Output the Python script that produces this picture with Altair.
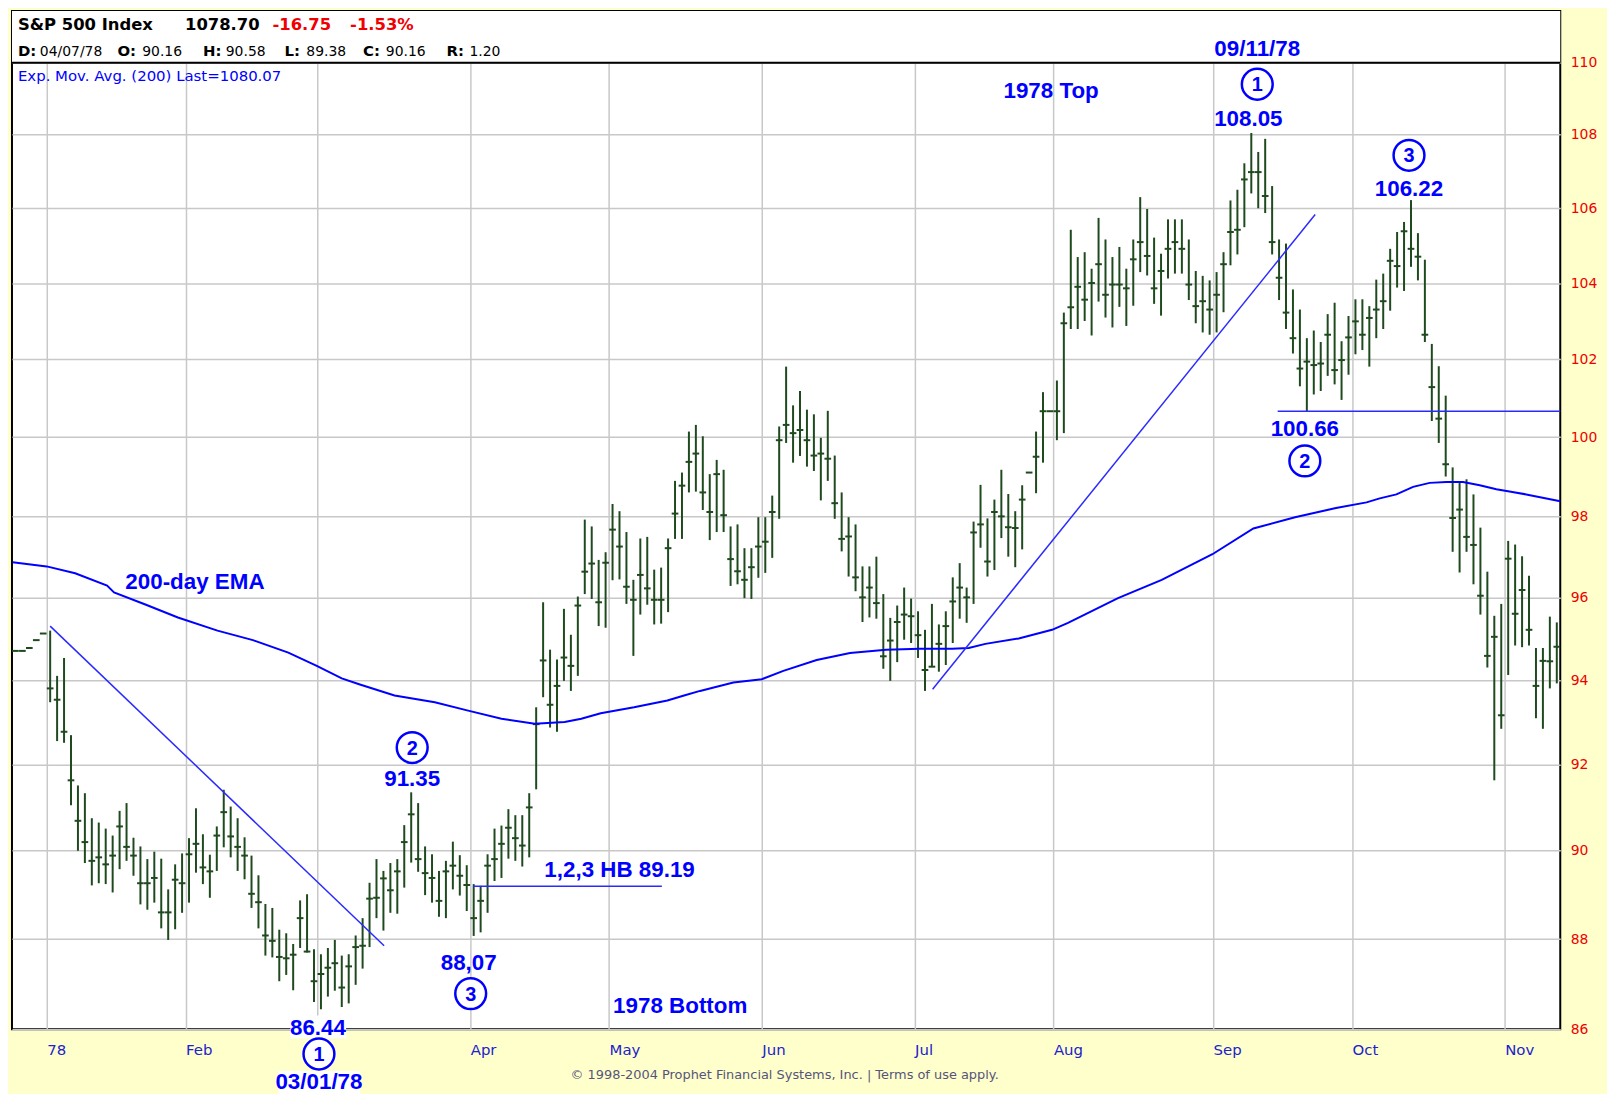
import altair as alt
import pandas as pd

# ---------------- values ----------------
# one entry per trading day (Dec 23 1977 .. Nov 10 1978); open is not shown
high = [
    94.70, 94.70, 94.77, 94.96, 95.12,                                   # Dec 77
    95.19, 94.10, 94.53, 92.69, 91.51, 91.33, 90.75, 90.65, 90.51, 90.35,  # Jan
    90.92, 91.10, 90.30, 90.10, 89.81, 89.98, 89.82, 89.12, 89.69, 89.94,
    90.29, 90.98, 90.38, 89.91, 90.56, 91.41, 91.02, 90.75, 90.31, 89.89,  # Feb
    89.44, 88.79, 88.70, 88.21, 88.13, 87.89, 88.87, 89.01, 87.77,
    87.66, 87.80, 87.98, 87.63, 87.66, 88.08, 88.47, 89.27, 89.81, 89.54,  # Mar
    89.72, 89.81, 90.59, 91.35, 91.10, 90.10, 89.92, 89.54, 89.77, 90.21,
    89.90, 89.67,
    89.24, 89.20, 89.92, 90.51, 90.58, 90.96, 90.82, 90.82, 91.33, 93.35,  # Apr
    95.88, 94.73, 94.49, 95.72, 95.09, 96.02, 97.92, 97.75, 96.92, 97.11,
    98.31, 98.13, 97.61, 96.43, 97.45, 97.49, 96.68, 96.73, 97.45, 98.89,  # May
    99.10, 100.14, 100.31, 100.02, 99.06, 99.42, 99.17, 97.75, 97.80, 97.21,
    97.21, 97.98,
    97.98, 98.52, 100.27, 101.81, 100.81, 101.18, 100.70, 100.58, 99.98, 100.67,  # Jun
    99.53, 98.60, 97.98, 97.80, 96.76, 96.76, 97.00, 96.08, 95.50, 95.80,
    96.24, 95.97,
    95.66, 95.21, 95.84, 95.34, 95.66, 96.49, 96.84, 96.24, 97.87, 98.79,  # Jul
    97.95, 98.42, 99.17, 98.56, 98.13, 98.78, 99.10, 100.14, 101.15, 100.66,
    101.45, 103.22, 105.42, 104.69, 104.82, 104.38, 105.74, 105.16, 104.69, 104.96,  # Aug
    104.38, 105.16, 106.30, 105.98, 105.21, 104.78, 105.70, 105.70, 105.70, 105.16,
    104.32, 104.19, 104.07,
    104.29, 104.82, 106.21, 106.50, 107.22, 108.05, 107.53, 107.89, 106.60, 105.16,  # Sep
    105.05, 103.83, 103.30, 102.55, 102.75, 102.45, 103.18, 103.48, 102.47, 103.13,
    103.57, 103.57, 103.39, 104.09, 104.25, 104.91, 105.36, 105.63, 106.22, 105.33,  # Oct
    104.62, 102.40, 101.82, 101.06, 99.23, 98.84, 98.93, 98.55, 97.72, 96.63,
    95.55, 95.84,
    97.39, 97.30, 97.01, 96.53, 94.77, 94.77, 95.53, 95.39,                # Nov
]
low = [
    94.70, 94.70, 94.77, 94.96, 95.12,
    93.47, 92.55, 92.51, 91.05, 90.00, 89.72, 89.21, 89.26, 89.24, 89.05,
    89.58, 89.77, 89.43, 88.78, 88.66, 88.82, 88.24, 87.98, 88.22, 88.59,
    88.82, 89.50, 89.24, 88.93, 89.54, 90.08, 89.85, 89.54, 89.35, 88.70,
    88.24, 87.63, 87.59, 87.06, 87.20, 86.86, 87.80, 87.70, 86.60,
    86.44, 86.72, 86.85, 86.49, 86.57, 86.98, 87.34, 87.82, 88.47, 88.19,
    88.59, 88.57, 89.16, 89.73, 89.52, 88.99, 88.82, 88.50, 88.47, 89.12,
    88.98, 88.63,
    88.07, 88.15, 88.59, 89.31, 89.38, 89.82, 89.77, 89.64, 89.85, 91.42,
    93.59, 92.87, 92.77, 93.98, 93.74, 94.10, 96.08, 95.96, 95.30, 95.26,
    96.42, 96.44, 95.84, 94.58, 95.58, 95.82, 95.34, 95.36, 95.64, 97.44,
    97.44, 98.60, 98.62, 98.16, 97.41, 97.61, 97.61, 96.28, 96.32, 95.98,
    95.96, 96.48,
    96.60, 96.97, 97.94, 99.85, 99.35, 99.52, 99.25, 99.14, 98.40, 98.89,
    97.94, 97.13, 96.51, 96.15, 95.40, 95.51, 95.48, 94.27, 93.98, 94.43,
    94.97, 94.89,
    94.53, 93.74, 94.32, 94.20, 94.36, 94.89, 95.48, 95.38, 95.84, 97.22,
    96.51, 96.67, 97.46, 97.00, 96.74, 97.18, 99.10, 98.58, 99.35, 100.66,
    99.92, 100.10, 102.79, 102.79, 103.00, 102.62, 103.51, 103.09, 102.83, 103.37,
    102.87, 103.40, 104.29, 104.20, 103.45, 103.14, 104.12, 104.25, 104.25, 103.55,
    102.94, 102.70, 102.64,
    102.70, 103.23, 104.47, 104.76, 105.49, 106.40, 106.00, 105.87, 104.76, 103.55,
    102.79, 102.15, 101.30, 100.66, 101.09, 101.18, 101.57, 101.35, 100.95, 101.60,
    102.13, 102.24, 101.81, 102.55, 102.79, 103.27, 103.88, 103.79, 104.43, 104.07,
    102.45, 100.41, 99.85, 99.00, 97.12, 96.61, 97.12, 96.32, 95.58, 94.30,
    91.63, 92.84,
    94.12, 94.83, 94.79, 94.83, 93.09, 92.84, 93.80, 93.92,
]
close = [
    94.70, 94.70, 94.77, 94.96, 95.12,
    93.80, 93.53, 92.77, 91.63, 90.69, 90.20, 89.77, 89.85, 89.69, 89.89,
    90.56, 90.09, 89.89, 89.26, 89.26, 89.38, 88.60, 88.60, 89.34, 89.26,
    89.92, 90.16, 89.62, 89.53, 90.35, 90.89, 90.33, 90.09, 89.89, 89.02,
    88.83, 88.08, 87.96, 87.60, 87.57, 87.65, 88.47, 87.72, 87.06,
    87.22, 87.36, 87.46, 86.92, 87.39, 87.82, 87.85, 88.91, 88.93, 89.37,
    89.10, 89.53, 90.20, 90.84, 89.81, 89.49, 89.38, 88.86, 89.53, 89.66,
    89.43, 89.22,
    88.47, 88.86, 89.66, 89.81, 90.16, 90.53, 90.29, 90.12, 91.00, 92.95,
    94.47, 93.41, 93.86, 94.54, 94.34, 95.80, 96.63, 96.83, 95.88, 96.85,
    97.67, 97.25, 96.26, 95.94, 96.55, 96.22, 95.94, 95.94, 97.21, 98.07,
    98.77, 99.37, 99.58, 98.60, 98.11, 99.06, 98.03, 96.94, 96.64, 96.43,
    96.74, 97.25,
    97.37, 98.11, 99.92, 100.31, 100.10, 100.18, 99.92, 99.53, 99.58, 99.45,
    98.33, 97.44, 97.50, 96.49, 96.00, 96.24, 95.86, 94.57, 94.95, 95.40,
    95.58, 95.54,
    95.08, 94.24, 94.32, 94.87, 95.30, 95.90, 96.24, 96.00, 97.60, 97.80,
    96.88, 98.11, 98.00, 97.73, 97.71, 98.42, 99.10, 99.50, 100.66, 100.66,
    100.66, 102.94, 103.36, 103.90, 103.56, 104.00, 104.50, 103.69, 103.96, 103.96,
    103.86, 104.63, 105.09, 104.72, 103.86, 104.32, 104.91, 105.09, 104.91, 103.96,
    103.39, 103.52, 103.30,
    103.69, 104.50, 105.36, 105.42, 106.78, 106.98, 106.98, 106.33, 105.09, 104.14,
    103.22, 102.55, 101.76, 101.94, 101.85, 101.89, 102.64, 101.72, 101.98, 102.57,
    102.99, 102.64, 103.08, 103.30, 103.52, 104.59, 104.45, 105.38, 104.91, 104.70,
    102.64, 101.28, 100.47, 99.31, 97.96, 98.17, 97.49, 97.29, 96.04, 94.58,
    95.04, 93.16,
    96.95, 95.60, 96.18, 95.21, 93.86, 94.46, 94.45, 94.80,
]

# month boundaries (trading-day index of the first session) and their labels
month_start = [5, 25, 44, 66, 86, 108, 130, 150, 173, 193, 215]
month_label = ["78", "Feb", "Mar", "Apr", "May", "Jun", "Jul", "Aug", "Sep", "Oct", "Nov"]
hidden_labels = ["Mar"]          # covered by the 03/01/78 annotation
price_ticks = [86, 88, 90, 92, 94, 96, 98, 100, 102, 104, 106, 108, 110]

# 200-day exponential moving average, sampled along the drawn curve
ema_pos = [0.1, 5.0, 9.1, 13.7, 14.7, 19.3, 23.9, 29.6, 34.7, 39.8, 43.9, 47.5,
           50.0, 55.1, 60.9, 65.7, 70.5, 75.3, 79.6, 82.0, 84.8, 89.6, 94.4,
           96.8, 99.1, 103.9, 108.0, 111.1, 115.9, 120.7, 125.9, 130.7, 135.4,
           137.8, 140.2, 145.0, 149.8, 152.1, 154.5, 159.3, 165.6, 172.9, 178.8,
           184.8, 190.7, 195.1, 197.0, 199.4, 201.8, 204.2, 206.6, 209.0, 211.4,
           213.8, 216.1, 218.1, 223.0]
ema_val = [96.86, 96.76, 96.59, 96.29, 96.12, 95.82, 95.51, 95.19, 94.96, 94.66,
           94.34, 94.04, 93.90, 93.63, 93.47, 93.27, 93.08, 92.96, 93.00, 93.08,
           93.21, 93.35, 93.51, 93.63, 93.74, 93.94, 94.02, 94.22, 94.48, 94.65,
           94.73, 94.75, 94.75, 94.77, 94.87, 95.00, 95.21, 95.38, 95.58, 95.98,
           96.43, 97.06, 97.70, 97.98, 98.21, 98.35, 98.45, 98.55, 98.74, 98.84,
           98.86, 98.86, 98.78, 98.68, 98.61, 98.55, 98.38]

# drawn trend / level lines (trading-day position, price)
down_pos, down_val = [5.5, 53.6], [95.30, 87.85]
up_pos, up_val = [132.6, 187.7], [93.78, 105.83]
hb_pos, hb_level = [66.4, 93.6], 89.19
sup_pos, sup_level = [182.3, 223.0], 100.66

# ---------------- layout / styles ----------------
W, H = 1557, 1024
HEADER = 52                      # header band height (px) above the 110 line
N = len(close)
y_top = 86 * (110 / 86) ** (H / (H - HEADER))

BAR = "#1E4A1E"
BLUE = "#0000FF"
RED = "#F00000"
GRID = "#C8C8C8"
NARROW = "Liberation Sans, Arial, sans-serif"
NSIZE = 22.5
SANS = "DejaVu Sans, Verdana, sans-serif"

bars = pd.DataFrame({"i": list(range(N)), "high": high, "low": low, "close": close})
bars["x"] = bars["i"] + 0.5
bars["xl"] = bars["i"] + 0.02
bars["xr"] = bars["i"] + 0.98

ema_df = pd.DataFrame({"pos": ema_pos, "val": ema_val})
lines_df = pd.concat([
    pd.DataFrame({"pos": down_pos, "val": down_val, "name": "down"}),
    pd.DataFrame({"pos": up_pos, "val": up_val, "name": "up"}),
    pd.DataFrame({"pos": hb_pos, "val": [hb_level] * 2, "name": "hb"}),
    pd.DataFrame({"pos": sup_pos, "val": [sup_level] * 2, "name": "sup"}),
])
one = pd.DataFrame({"k": [0]})

xs = alt.Scale(domain=[0, N], nice=False, zero=False)
ys = alt.Scale(type="log", domain=[86, y_top], nice=False)

shown = ["" if m in hidden_labels else m for m in month_label]
labels_js = "[" + ",".join("'%s'" % m for m in shown) + "]"
starts_js = "[" + ",".join(str(s) for s in month_start) + "]"

x_axis = alt.Axis(values=month_start, labelExpr=f"{labels_js}[indexof({starts_js}, datum.value)]",
                  grid=True, gridColor=GRID, gridWidth=1.5, ticks=False, domain=False,
                  labelAlign="left", labelBaseline="top", labelPadding=13,
                  labelColor="#2222CC", labelFont=SANS, labelFontSize=15,
                  labelOverlap=False, labelFlush=False, title=None)
y_axis = alt.Axis(orient="right", values=price_ticks, format="d", grid=True,
                  gridColor=GRID, gridWidth=1.5, ticks=False, domain=False,
                  labelColor=RED, labelFont=SANS, labelFontSize=14, labelPadding=10,
                  labelOverlap=False, labelFlush=False, title=None)

rng = alt.Chart(bars).mark_rule(color=BAR, strokeWidth=2).encode(
    x=alt.X("x:Q", scale=xs, axis=x_axis),
    y=alt.Y("low:Q", scale=ys, axis=y_axis),
    y2="high:Q",
)
tick = alt.Chart(bars).mark_rule(color=BAR, strokeWidth=2).encode(
    x=alt.X("xl:Q", scale=xs, title=None), x2="xr:Q",
    y=alt.Y("close:Q", scale=ys, title=None),
)
ema = alt.Chart(ema_df).mark_line(color=BLUE, strokeWidth=2).encode(
    x=alt.X("pos:Q", scale=xs, title=None), y=alt.Y("val:Q", scale=ys, title=None),
)
trend = alt.Chart(lines_df).mark_line(color="#2A2AFF", strokeWidth=1.5).encode(
    x=alt.X("pos:Q", scale=xs, title=None), y=alt.Y("val:Q", scale=ys, title=None),
    detail="name:N",
)


def text(t, x, y, size=NSIZE, color=BLUE, font=NARROW, weight="bold", align="center",
         baseline="middle", dx=0, dy=0):
    return alt.Chart(one).mark_text(text=t, fontSize=size, color=color, font=font,
                                    fontWeight=weight, align=align, baseline=baseline,
                                    dx=dx, dy=dy).encode(x=x, y=y)


def ring(x, y, digit, dx, dy):
    c = alt.Chart(one).mark_point(shape="circle", size=962, filled=True, fill="white",
                                  stroke=BLUE, strokeWidth=2.5, opacity=1,
                                  xOffset=dx, yOffset=dy).encode(x=x, y=y)
    return [c, text(digit, x, y, size=20, dx=dx, dy=dy + 1)]


def box(x1, x2, y1, y2, fill="white"):
    return alt.Chart(one).mark_rect(fill=fill).encode(
        x=alt.value(x1), x2=alt.value(x2), y=alt.value(y1), y2=alt.value(y2))


layers = [rng, tick, ema, trend]

# header band
layers.append(box(0, W, 0, HEADER))
layers.append(alt.Chart(one).mark_rule(color="black", strokeWidth=2).encode(y=alt.datum(110)))


# pivots: (bar index, price, label, circle digit, label dy, circle dy, dx label, dx circle)
def pivot(i, p, lab, digit, dy_lab, dy_ring, dx_lab, dx_ring):
    X, Y = alt.datum(i + 0.5), alt.datum(p)
    return [text(lab, X, Y, dx=dx_lab, dy=dy_lab)] + ring(X, Y, digit, dx_ring, dy_ring)


layers.append(box(280, 336, 1010, 1033))
layers.append(box(268, 350, 1066, 1094))
layers += pivot(44, 86.44, "86.44", "1", 19, 45, -3, -2)
layers.append(text("03/01/78", alt.datum(44.5), alt.datum(86.44), dx=-2, dy=73))
layers += pivot(57, 91.35, "91.35", "2", -13, -45, 1, 1)
layers += pivot(66, 88.07, "88,07", "3", 27, 58, -5, -3)
layers += pivot(178, 108.05, "108.05", "1", -14, -49, -3, 6)
layers.append(text("09/11/78", alt.datum(178.5), alt.datum(108.05), dx=6, dy=-84))
layers += pivot(186, 100.66, "100.66", "2", 17.5, 50, -2, -2)
layers += pivot(201, 106.22, "106.22", "3", -11.5, -45, -2, -2)

layers.append(text("1,2,3 HB 89.19", alt.value(611), alt.value(864)))
layers.append(text("200-day EMA", alt.value(184), alt.value(574)))
layers.append(text("1978 Top", alt.value(1045), alt.value(80)))
layers.append(text("1978 Bottom", alt.value(672), alt.value(1001)))


# header text
def htext(t, x, y, size, weight="normal", color="black"):
    return text(t, alt.value(x), alt.value(y), size=size, color=color, font=SANS,
                weight=weight, align="left", baseline="alphabetic")


layers += [
    htext("S&P 500 Index", 6, 19, 16.5, "bold"),
    htext("1078.70", 174, 19, 16.5, "bold"),
    htext("-16.75", 262, 19, 16.5, "bold", RED),
    htext("-1.53%", 340, 19, 16.5, "bold", RED),
]
line2 = [("D:", 6, "bold"), ("04/07/78", 28, "normal"), ("O:", 106, "bold"),
         ("90.16", 131, "normal"), ("H:", 192, "bold"), ("90.58", 215, "normal"),
         ("L:", 274, "bold"), ("89.38", 296, "normal"), ("C:", 353, "bold"),
         ("90.16", 376, "normal"), ("R:", 437, "bold"), ("1.20", 460, "normal")]
for t, x, w in line2:
    layers.append(htext(t, x, 45, 15 if w == "bold" else 14, w))
layers.append(htext("Exp. Mov. Avg. (200) Last=1080.07", 6, 70, 15, "normal", BLUE))

# footer
layers.append(text("\u00a9 1998-2004 Prophet Financial Systems, Inc. | Terms of use apply.",
                   alt.value(777), alt.value(1070), size=13, color="#55557A",
                   font=SANS, weight="normal"))

chart = alt.layer(*layers).properties(
    width=W, height=H, background="#FFFFCC",
    padding={"left": 0, "top": 0, "right": 10, "bottom": 0},
).configure_view(stroke="black", strokeWidth=2, fill="white")

chart.save("out.html", embed_options={"renderer": "svg", "actions": False})
